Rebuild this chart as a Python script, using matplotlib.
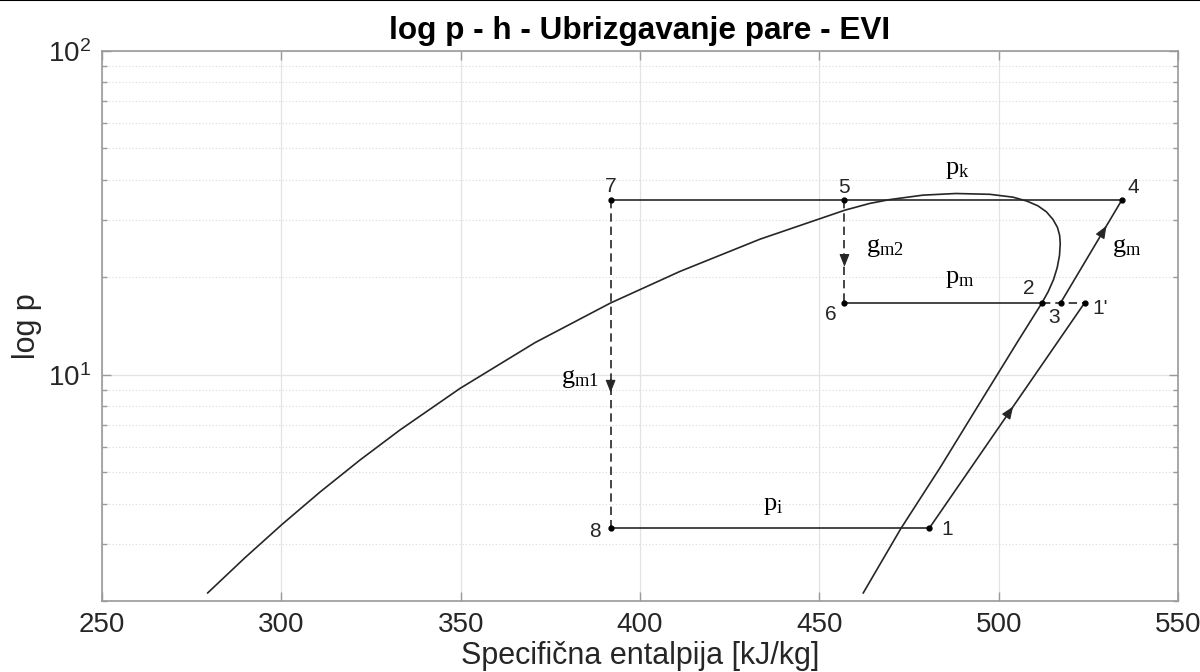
import numpy as np
import matplotlib
matplotlib.use("Agg")
import matplotlib.pyplot as plt
from matplotlib.lines import Line2D
from matplotlib.ticker import LogLocator, NullFormatter, FixedLocator

# Saturation dome (enthalpy kJ/kg, pressure bar)
dome_h = [279.47, 289.87, 300.18, 310.78, 321.93, 333.08, 349.81, 370.71,
          391.76, 411.14, 433.44, 457.14, 464.11, 469.68, 478.88, 488.08,
          497.56, 503.97, 507.88, 510.94, 513.31, 515.12, 516.38, 516.99,
          517.16, 516.95, 516.32, 515.29, 513.81, 512.06, 505.45, 494.77,
          483.62, 472.74, 462.24]
dome_p = [2.118, 2.721, 3.447, 4.340, 5.451, 6.750, 9.07, 12.56,
          16.65, 20.85, 26.22, 32.24, 33.83, 34.76, 35.87, 36.29,
          36.08, 35.36, 34.38, 33.24, 31.85, 30.19, 28.52, 26.94,
          25.44, 23.35, 21.44, 19.68, 18.07, 16.67, 12.74, 8.19,
          5.154, 3.35, 2.118]

# Cycle pressures (bar)
p_k = 34.6
p_m = 16.7
p_i = 3.35

# State points: name -> enthalpy
state_names = ["1", "1'", "2", "3", "4", "5", "6", "7", "8"]
state_h = [480.6, 524.0, 512.0, 517.3, 534.3, 457.0, 457.0, 391.8, 391.8]
state_p = [p_i, p_m, p_m, p_m, p_k, p_k, p_m, p_k, p_i]
S = {n: (h, p) for n, h, p in zip(state_names, state_h, state_p)}

x_ticks = [250, 300, 350, 400, 450, 500, 550]

plt.rcParams['font.family'] = ['Liberation Sans', 'DejaVu Sans']
plt.rcParams['mathtext.fontset'] = 'custom'
plt.rcParams['mathtext.rm'] = 'Liberation Sans'

LC = '#262626'
fig = plt.figure(figsize=(12, 6.72), dpi=100)
ax = fig.add_axes([0.085, 0.1057, 0.8967, 0.8184])

ax.set_yscale('log')
ax.set_xlim(250, 550)
ax.set_ylim(2, 100)
ax.xaxis.set_major_locator(FixedLocator(x_ticks))
ax.yaxis.set_major_locator(LogLocator(base=10))
ax.yaxis.set_minor_locator(LogLocator(base=10, subs=np.arange(2, 10)))
ax.yaxis.set_minor_formatter(NullFormatter())

ax.grid(True, which='major', color='#e3e3e3', lw=0.9, ls='-')
ax.grid(True, which='minor', axis='y', color='#dadada', lw=0.8, ls=(0, (1, 2)))
ax.set_axisbelow(True)

for sp in ax.spines.values():
    sp.set_color('#9a9a9a')
    sp.set_linewidth(1.2)
ax.tick_params(which='both', direction='in', top=True, right=True,
               color='#9a9a9a', labelcolor=LC, labelsize=20, width=1.0)
ax.tick_params(which='major', length=6.5, pad=8)
ax.tick_params(which='minor', length=3.5)

lw = 1.2
# saturation dome
ax.plot(dome_h, dome_p, color=LC, lw=lw, solid_joinstyle='round')

def seg(a, b, dashed=False):
    (h0, p0), (h1, p1) = S[a], S[b]
    ax.plot([h0, h1], [p0, p1], color=LC, lw=lw,
            ls=(0, (5, 3)) if dashed else '-')

seg("7", "4")
seg("7", "8", dashed=True)
seg("5", "6", dashed=True)
seg("8", "1")
seg("6", "2")
seg("2", "1'", dashed=True)
seg("1", "1'")
seg("3", "4")

def along(a, b, t):
    (h0, p0), (h1, p1) = S[a], S[b]
    return h0 + t * (h1 - h0), p0 * (p1 / p0) ** t

def arrow(a, b, t):
    tip = along(a, b, t)
    tail = along(a, b, t - 0.04)
    ax.annotate('', xy=tip, xytext=tail,
                arrowprops=dict(arrowstyle='-|>,head_length=0.55,head_width=0.22',
                                mutation_scale=14, fc=LC, ec=LC, lw=0.8,
                                shrinkA=0, shrinkB=0))

arrow("7", "8", 0.586)
arrow("5", "6", 0.65)
arrow("1", "1'", 0.54)
arrow("3", "4", 0.75)

# state point markers
ax.plot(state_h, state_p, ls='none', marker='o', ms=3.5, color='k')

label_offsets = {"7": (0, 10), "5": (0, 9.5), "4": (8, 9.5), "6": (-10, -8.5),
                 "2": (-9.5, 10.5), "3": (-5, -11), "1'": (11, -4.5),
                 "8": (-11, -2), "1": (13, -1)}
for n in state_names:
    dx, dy = label_offsets[n]
    ax.annotate(n, xy=S[n], xytext=(dx, dy), textcoords='offset points',
                ha='center', va='center', fontsize=15, color=LC)

serif = ['Liberation Serif', 'DejaVu Serif']
serif_labels = [(r'$\mathregular{p_k}$', 488.6, 42.8),
                (r'$\mathregular{g_{m2}}$', 468.3, 24.7),
                (r'$\mathregular{p_m}$', 489.2, 19.8),
                (r'$\mathregular{g_m}$', 535.8, 24.7),
                (r'$\mathregular{g_{m1}}$', 383.3, 9.72),
                (r'$\mathregular{p_i}$', 437.1, 3.93)]
for txt, x, y in serif_labels:
    ax.text(x, y, txt, family=serif, fontsize=19, ha='center', va='center', color='k')

ax.set_title('log p - h - Ubrizgavanje pare - EVI', fontsize=22.7, fontweight='bold',
             color='k', pad=9)
ax.set_xlabel('Specifična entalpija [kJ/kg]', fontsize=22, color=LC, labelpad=2)
ax.set_ylabel('log p', fontsize=22, color=LC, labelpad=4)

fig.add_artist(Line2D([0, 1], [0.9993, 0.9993], color='k', lw=1.5,
                      transform=fig.transFigure))

fig.savefig('out.png', dpi=100, facecolor='white')
